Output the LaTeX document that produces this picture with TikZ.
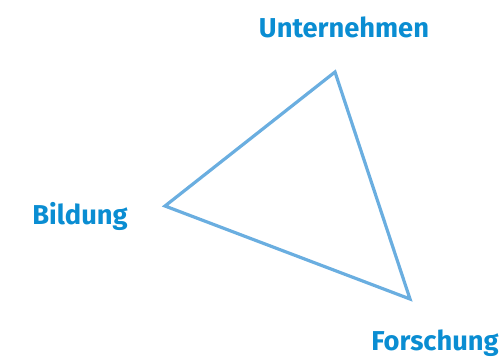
\documentclass[tikz,border=0pt]{standalone}
\usepackage{fontspec}
\setmainfont{Fira Sans}
\usepackage{xcolor}
\usepackage{tikz}
\usetikzlibrary{positioning}

\definecolor{titelblau}{HTML}{0A8DD2}
\definecolor{linienblau}{HTML}{6AAEE0}

\begin{document}
\begin{tikzpicture}[
      x=1pt, y=-1pt,
      lbl/.style={font=\fontsize{27.3}{30}\selectfont\bfseries, text=titelblau, inner sep=0pt},
      kante/.style={draw=linienblau, line width=3.2pt, line join=miter}
    ]
    \useasboundingbox (0,0) rectangle (500,358);

    % Ecken
    \coordinate (u) at (335,72);
    \coordinate (b) at (165,206);
    \coordinate (f) at (410,299);

    % Dreieck
    \draw[kante] (u) -- (b) -- (f) -- cycle;

    % Beschriftungen
    \node[lbl] (unt) at (344,27) {Unternehmen};
    \node[lbl] (bil) at (80,216) {Bildung};
    \node[lbl] (for) at (435,343) {Forschung};
  \end{tikzpicture}
\end{document}
